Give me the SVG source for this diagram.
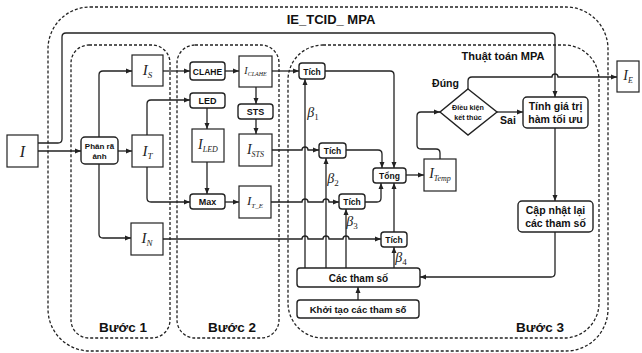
<svg xmlns="http://www.w3.org/2000/svg" width="642" height="353" viewBox="0 0 642 353">
<defs>
<marker id="ah" markerWidth="6" markerHeight="6" refX="6" refY="3" orient="auto" markerUnits="userSpaceOnUse"><path d="M0,0.5 L6,3 L0,5.5 z" fill="#222"/></marker>
<style>
.dash{fill:none;stroke:#222;stroke-width:1.3;stroke-dasharray:3 2}
.box{fill:#fff;stroke:#222;stroke-width:1.2}
.rb{fill:#fff;stroke:#222;stroke-width:1.4}
.ln{fill:none;stroke:#222;stroke-width:1.3}
.arr{marker-end:url(#ah)}
.b{font-family:"Liberation Sans",Arial,sans-serif;font-weight:bold;fill:#111;text-anchor:middle}
.m{font-family:"Liberation Serif","Times New Roman",serif;font-style:italic;fill:#222;text-anchor:middle}
.up{font-style:normal}
</style>
</defs>
<rect width="642" height="353" fill="#fff"/>
<g id="frames">
<rect class="dash" x="48" y="7" width="560" height="344" rx="42"/>
<text class="b" x="331" y="24" font-size="13">IE_TCID_ MPA</text>
<rect class="dash" x="71" y="45" width="99" height="293" rx="18"/>
<text class="b" x="123" y="332" font-size="13.5">Bước 1</text>
<rect class="dash" x="177" y="45" width="102" height="293" rx="18"/>
<text class="b" x="232" y="332" font-size="13.5">Bước 2</text>
<rect class="dash" x="288" y="45" width="311" height="293" rx="35"/>
<text class="b" x="540" y="332" font-size="13.5">Bước 3</text>
<text class="b" x="503" y="60" font-size="11">Thuật toán MPA</text>
</g>
<g id="connectors">
<path class="ln arr" d="M38,143 H58 Q62,143 62,139 V37 Q62,33 66,33 H551 Q555,33 555,37 V97"/>
<path class="ln arr" d="M38,151 H81"/>
<path class="ln arr" d="M118,151 H132"/>
<path class="ln arr" d="M99,137 V75 Q99,71 103,71 H132"/>
<path class="ln arr" d="M99,164 V234 Q99,238 103,238 H131"/>
<path class="ln arr" d="M163,71 H190"/>
<path class="ln arr" d="M147,135 V104 Q147,100 151,100 H190"/>
<path class="ln arr" d="M147,167 V198 Q147,202 151,202 H190"/>
<path class="ln arr" d="M207,108 V129"/>
<path class="ln arr" d="M207,162 V194"/>
<path class="ln arr" d="M225,71 H239"/>
<path class="ln arr" d="M256,87 V104"/>
<path class="ln arr" d="M256,119 V134"/>
<path class="ln arr" d="M225,202 H239"/>
<path class="ln arr" d="M272,71 H299"/>
<path class="ln arr" d="M272,150 H302 a3,3 0 0 1 6,0 H319"/>
<path class="ln arr" d="M271,202 H302 a3,3 0 0 1 6,0 H323 a3,3 0 0 1 6,0 H339"/>
<path class="ln arr" d="M163,239 H302 a3,3 0 0 1 6,0 H323 a3,3 0 0 1 6,0 H343 a3,3 0 0 1 6,0 H381"/>
<path class="ln arr" d="M305,268 V79"/>
<path class="ln arr" d="M326,268 V158"/>
<path class="ln arr" d="M346,268 V209"/>
<path class="ln arr" d="M394,268 V247"/>
<path class="ln arr" d="M358,300 V287"/>
<path class="ln arr" d="M325,71 H390 Q394,71 394,75 V168"/>
<path class="ln arr" d="M346,150 H378 Q382,150 382,154 V168"/>
<path class="ln arr" d="M365,202 H377 Q381,202 381,198 V183"/>
<path class="ln arr" d="M394,232 V183"/>
<path class="ln arr" d="M406,175 H424"/>
<path class="ln arr" d="M440,159 V153 Q440,149 436,149 H421 Q417,149 417,145 V116 Q417,112 421,112 H440"/>
<path class="ln arr" d="M497,112 H523"/>
<path class="ln arr" d="M468,89 V81 Q468,77 472,77 H552 a3,3 0 0 1 6,0 H617"/>
<path class="ln arr" d="M555,128 V201"/>
<path class="ln arr" d="M555,232 V273 Q555,277 551,277 H420"/>
<text class="b" x="445.5" y="87" font-size="10.5">Đúng</text>
<text class="b" x="508" y="124" font-size="10.5">Sai</text>
<text class="m" x="313" y="117" font-size="14">β<tspan class="up" font-size="9" dy="3">1</tspan></text>
<text class="m" x="333" y="183" font-size="14">β<tspan class="up" font-size="9" dy="3">2</tspan></text>
<text class="m" x="352" y="226" font-size="14">β<tspan class="up" font-size="9" dy="3">3</tspan></text>
<text class="m" x="401" y="262" font-size="14">β<tspan class="up" font-size="9" dy="3">4</tspan></text>
</g>
<g id="n-I"><rect class="box" x="7" y="135" width="31" height="32"/><text class="m" x="22.5" y="157" font-size="16">I</text></g>
<g id="n-phanra"><rect class="rb" x="81" y="137" width="37" height="27" rx="4"/><text class="b" x="99.5" y="149" font-size="8">Phân rã</text><text class="b" x="99.5" y="159" font-size="8">ảnh</text></g>
<g id="n-IS"><rect class="box" x="132" y="55" width="31" height="31"/><text class="m" x="147.5" y="75" font-size="15">I<tspan font-size="9" dy="2.5">S</tspan></text></g>
<g id="n-IT"><rect class="box" x="132" y="135" width="31" height="32"/><text class="m" x="147.5" y="156" font-size="15">I<tspan font-size="9" dy="2.5">T</tspan></text></g>
<g id="n-IN"><rect class="box" x="131" y="223" width="32" height="32"/><text class="m" x="147" y="243" font-size="15">I<tspan font-size="9" dy="2.5">N</tspan></text></g>
<g id="n-clahe"><rect class="rb" x="190" y="62" width="35" height="18" rx="3"/><text class="b" x="207.5" y="74.5" font-size="8.5">CLAHE</text></g>
<g id="n-led"><rect class="rb" x="190" y="93" width="35" height="15" rx="3"/><text class="b" x="207.5" y="104" font-size="9">LED</text></g>
<g id="n-ILED"><rect class="box" x="192" y="129" width="32" height="33"/><text class="m" x="208" y="149" font-size="14">I<tspan font-size="8" dy="2.5">LED</tspan></text></g>
<g id="n-max"><rect class="rb" x="190" y="194" width="35" height="15" rx="3"/><text class="b" x="207.5" y="205" font-size="9">Max</text></g>
<g id="n-ICLAHE"><rect class="box" x="239" y="56" width="33" height="31"/><text class="m" x="255.5" y="74" font-size="10">I<tspan font-size="6" dy="2">CLAHE</tspan></text></g>
<g id="n-sts"><rect class="rb" x="238" y="104" width="35" height="15" rx="3"/><text class="b" x="255.5" y="115" font-size="9">STS</text></g>
<g id="n-ISTS"><rect class="box" x="239" y="134" width="33" height="32"/><text class="m" x="255.5" y="154" font-size="14">I<tspan font-size="8" dy="2.5">STS</tspan></text></g>
<g id="n-ITE"><rect class="box" x="239" y="186" width="32" height="32"/><text class="m" x="255" y="205" font-size="13">I<tspan font-size="7" dy="2.5">T_E</tspan></text></g>
<g id="n-tich1"><rect class="rb" x="299" y="63" width="26" height="16" rx="3"/><text class="b" x="312" y="74.5" font-size="8.5">Tích</text></g>
<g id="n-tich2"><rect class="rb" x="319" y="143" width="27" height="15" rx="3"/><text class="b" x="332.5" y="154" font-size="8.5">Tích</text></g>
<g id="n-tich3"><rect class="rb" x="339" y="194" width="26" height="15" rx="3"/><text class="b" x="352" y="205" font-size="8.5">Tích</text></g>
<g id="n-tich4"><rect class="rb" x="381" y="232" width="26" height="15" rx="3"/><text class="b" x="394" y="243" font-size="8.5">Tích</text></g>
<g id="n-tong"><rect class="rb" x="373" y="168" width="33" height="15" rx="3"/><text class="b" x="389.5" y="179" font-size="8.5">Tổng</text></g>
<g id="n-ITemp"><rect class="box" x="424" y="159" width="32" height="32"/><text class="m" x="440" y="178" font-size="14">I<tspan font-size="8" dy="2.5">Temp</tspan></text></g>
<g id="n-dk"><path class="rb" d="M468,89 L497,112 L468,135 L440,112 Z"/><text class="b" x="468" y="110" font-size="7.2">Điều kiện</text><text class="b" x="468" y="119.5" font-size="7.2">kết thúc</text></g>
<g id="n-tinh"><rect class="rb" x="523" y="97" width="65" height="31" rx="4"/><text class="b" x="555.5" y="110" font-size="10.5">Tính giá trị</text><text class="b" x="555.5" y="123" font-size="10.5">hàm tối ưu</text></g>
<g id="n-capnhat"><rect class="rb" x="518" y="201" width="75" height="31" rx="4"/><text class="b" x="555.5" y="214" font-size="10.5">Cập nhật lại</text><text class="b" x="555.5" y="227" font-size="10.5">các tham số</text></g>
<g id="n-thamso"><rect class="rb" x="297" y="268" width="123" height="19" rx="3"/><text class="b" x="358.5" y="281.5" font-size="10">Các tham số</text></g>
<g id="n-khoitao"><rect class="rb" x="297" y="300" width="122" height="18" rx="3"/><text class="b" x="358" y="312.5" font-size="9.5">Khởi tạo các tham số</text></g>
<g id="n-IE"><rect class="box" x="617" y="61" width="22" height="31"/><text class="m" x="628" y="80" font-size="14">I<tspan font-size="8" dy="2.5">E</tspan></text></g>
</svg>
